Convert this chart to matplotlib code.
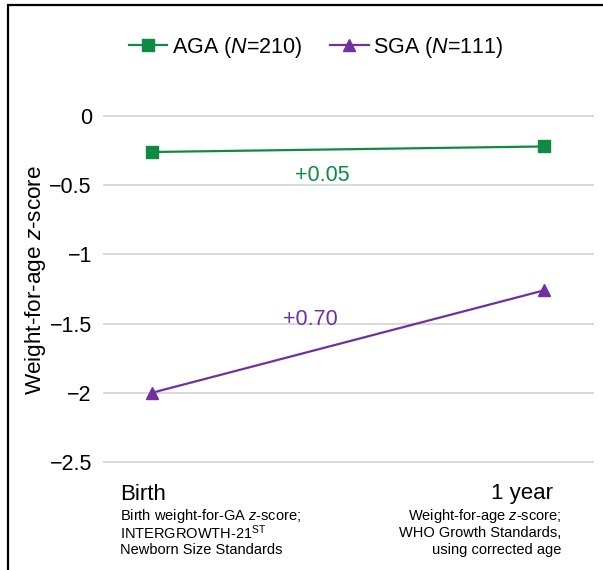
import matplotlib
matplotlib.use("Agg")
import matplotlib.pyplot as plt
from matplotlib.patches import Rectangle

plt.rcParams["font.family"] = ["Liberation Sans", "DejaVu Sans"]
plt.rcParams["mathtext.fontset"] = "custom"
plt.rcParams["mathtext.rm"] = "Liberation Sans"
plt.rcParams["mathtext.it"] = "Liberation Sans:italic"

timepoints = [0, 1]
aga_values = [-0.26, -0.22]
sga_values = [-2.00, -1.26]
aga_change = "+0.05"
sga_change = "+0.70"
yticks = [0, -0.5, -1, -1.5, -2, -2.5]
ytick_labels = ["0", "\u22120.5", "\u22121", "\u22121.5", "\u22122", "\u22122.5"]
birth_lines = ["Birth weight-for-GA $\\it{z}$-score;",
               "INTERGROWTH-21$^{\\rm ST}$",
               "Newborn Size Standards"]
year_lines = ["Weight-for-age $\\it{z}$-score;",
              "WHO Growth Standards,",
              "using corrected age"]

GREEN = "#0f8a43"
PURPLE = "#7030a0"

fig = plt.figure(figsize=(6.03, 5.70), dpi=100)
ax = fig.add_axes([103 / 603, 0.1774, (594 - 103) / 603, 0.6312])

ax.plot(timepoints, aga_values, color=GREEN, lw=1.6, marker="s", ms=8,
        label="AGA ($\\it{N}$=210)", clip_on=False, zorder=3)
ax.plot(timepoints, sga_values, color=PURPLE, lw=1.6, marker="^", ms=9,
        label="SGA ($\\it{N}$=111)", clip_on=False, zorder=3)

ax.set_xlim(-0.125, 1.1276)
ax.set_ylim(-2.55, 0.05)
ax.set_yticks(yticks)
ax.set_yticklabels(ytick_labels, fontsize=15.5)
ax.set_xticks([])
ax.tick_params(axis="y", length=0, pad=8)
ax.grid(axis="y", color="#d9d9d9", lw=1.4)
ax.set_axisbelow(True)
for s in ax.spines.values():
    s.set_visible(False)

ax.set_ylabel("Weight-for-age $\\it{z}$-score", fontsize=16.2)
ax.yaxis.set_label_coords(-0.112, 0.526)

# change annotations
ax.text(0.435, -0.43, aga_change, color=GREEN, fontsize=15.5, ha="center", va="center")
ax.text(0.403, -1.47, sga_change, color=PURPLE, fontsize=15.5, ha="center", va="center")

# x category labels
fig.text(120 / 603, 1 - 494 / 570, "Birth", fontsize=16, ha="left", va="center")
fig.text(553 / 603, 1 - 494 / 570, "1 year", fontsize=16, ha="right", va="center")
for i, (bl, yl) in enumerate(zip(birth_lines, year_lines)):
    y = 1 - (516 + 17 * i) / 570
    fig.text(120 / 603, y, bl, fontsize=10.5, ha="left", va="center")
    fig.text(561 / 603, y, yl, fontsize=10.5, ha="right", va="center")

fig.legend(loc="center", bbox_to_anchor=(316 / 603, 1 - 47 / 570), ncol=2,
           frameon=False, fontsize=15.5, handlelength=1.8, handletextpad=0.2,
           columnspacing=1.3)

# outer frame (cropped at right and bottom)
fig.patches.append(Rectangle((8 / 603, -0.1), 1.2, 1 - 5 / 570 + 0.1,
                             transform=fig.transFigure, fill=False,
                             edgecolor="black", lw=1.6))

fig.savefig("out.png", dpi=100)
